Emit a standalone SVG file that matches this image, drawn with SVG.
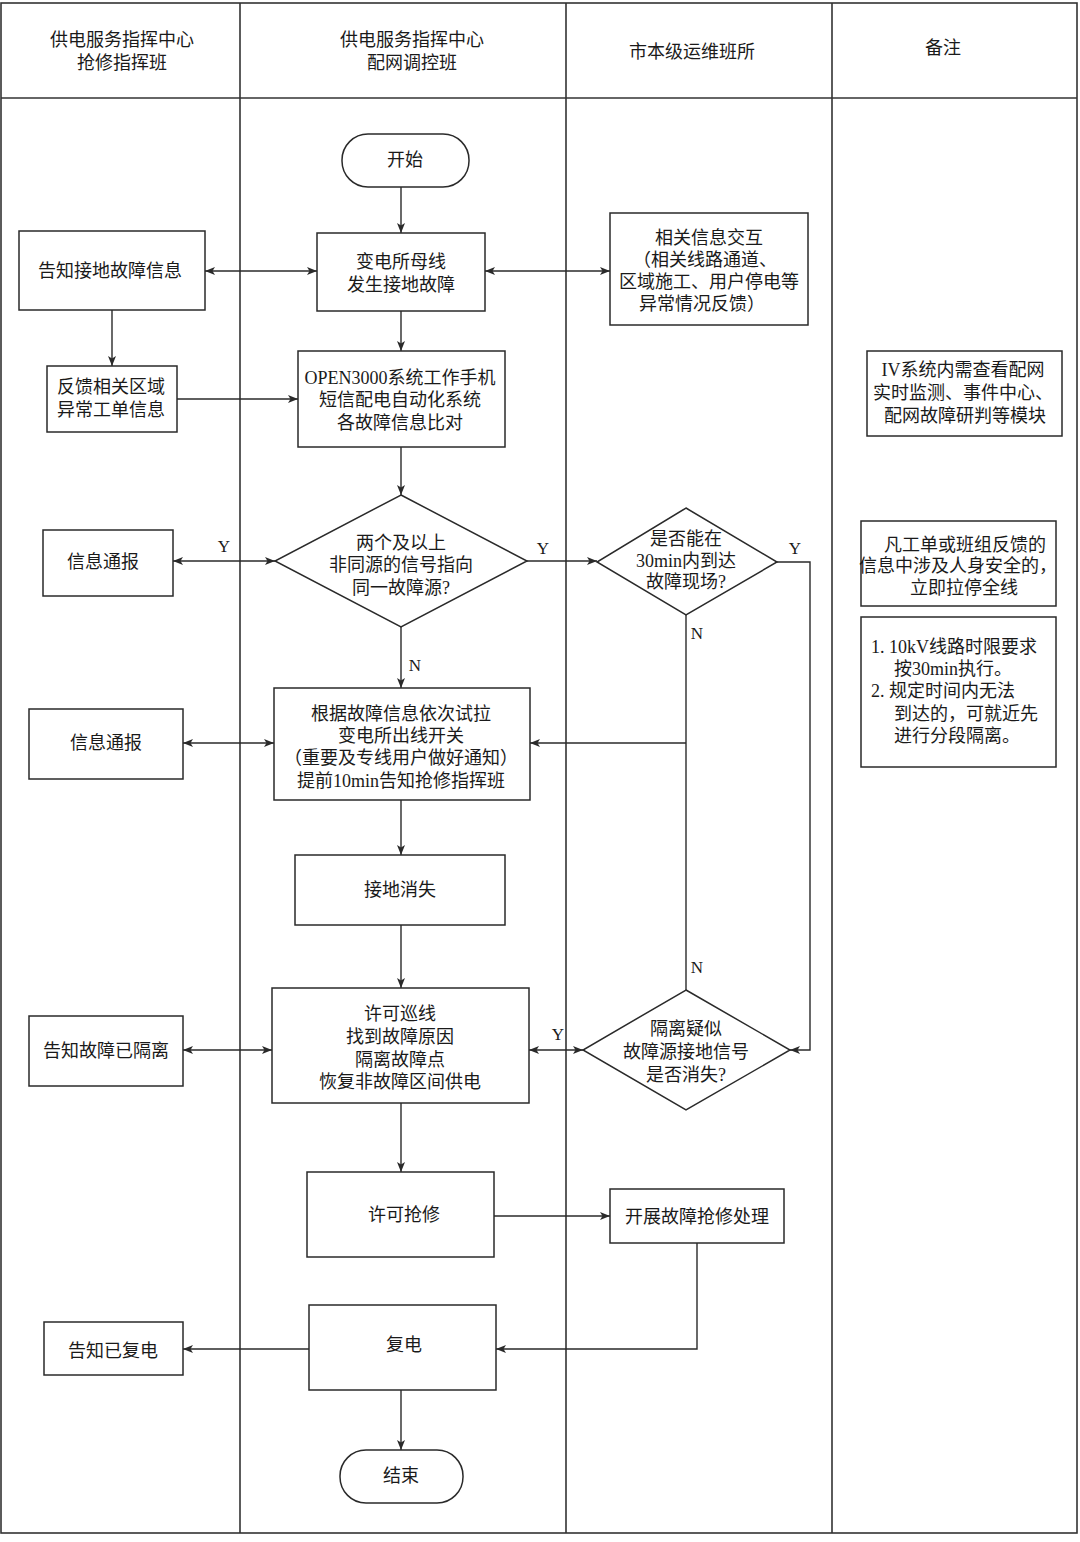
<svg xmlns="http://www.w3.org/2000/svg" width="1080" height="1542" viewBox="0 0 1080 1542">
<style>
text{font-family:"Liberation Serif","Noto Sans CJK SC",serif;font-size:18px;fill:#1a1a1a;text-anchor:middle;dominant-baseline:central}
.lbl{font-size:17px}
.l{text-anchor:start}
.frame{fill:none;stroke:#333;stroke-width:1.6}
.box{fill:#fff;stroke:#2a2a2a;stroke-width:1.5}
.c{fill:none;stroke:#2a2a2a;stroke-width:1.4}
</style>
<defs>
<marker id="ae" viewBox="0 0 10 8" refX="10" refY="4" markerWidth="10" markerHeight="8" markerUnits="userSpaceOnUse" orient="auto"><path d="M0,0 L10,4 L0,8 L2.5,4 Z" fill="#2a2a2a"/></marker>
<marker id="as" viewBox="0 0 10 8" refX="0" refY="4" markerWidth="10" markerHeight="8" markerUnits="userSpaceOnUse" orient="auto"><path d="M10,0 L0,4 L10,8 L7.5,4 Z" fill="#2a2a2a"/></marker>
</defs>
<rect width="1080" height="1542" fill="#fff"/>
<g id="lanes">
<rect class="frame" x="1" y="3" width="1076" height="1530"/>
<line class="frame" x1="1" y1="98" x2="1077" y2="98"/>
<line class="frame" x1="240" y1="3" x2="240" y2="1533"/>
<line class="frame" x1="566" y1="3" x2="566" y2="1533"/>
<line class="frame" x1="832" y1="3" x2="832" y2="1533"/>
<text x="122" y="40">供电服务指挥中心</text>
<text x="122" y="63">抢修指挥班</text>
<text x="412" y="40">供电服务指挥中心</text>
<text x="412" y="63">配网调控班</text>
<text x="692" y="52">市本级运维班所</text>
<text x="943" y="48">备注</text>
</g>
<g id="connectors">
<line class="c" x1="401" y1="187" x2="401" y2="233" marker-end="url(#ae)"/>
<line class="c" x1="205" y1="271" x2="317" y2="271" marker-start="url(#as)" marker-end="url(#ae)"/>
<line class="c" x1="485" y1="271" x2="610" y2="271" marker-start="url(#as)" marker-end="url(#ae)"/>
<line class="c" x1="112" y1="310" x2="112" y2="366" marker-end="url(#ae)"/>
<line class="c" x1="177" y1="399" x2="298" y2="399" marker-end="url(#ae)"/>
<line class="c" x1="401" y1="311" x2="401" y2="351" marker-end="url(#ae)"/>
<line class="c" x1="401" y1="447" x2="401" y2="495" marker-end="url(#ae)"/>
<line class="c" x1="173" y1="561" x2="275" y2="561" marker-start="url(#as)" marker-end="url(#ae)"/>
<line class="c" x1="527" y1="561" x2="597" y2="561" marker-end="url(#ae)"/>
<line class="c" x1="401" y1="627" x2="401" y2="688" marker-end="url(#ae)"/>
<polyline class="c" points="777,562 810,562 810,1050 790,1050" marker-end="url(#ae)"/>
<line class="c" x1="686" y1="615" x2="686" y2="990"/>
<line class="c" x1="686" y1="743" x2="530" y2="743" marker-end="url(#ae)"/>
<line class="c" x1="183" y1="743" x2="274" y2="743" marker-start="url(#as)" marker-end="url(#ae)"/>
<line class="c" x1="401" y1="800" x2="401" y2="855" marker-end="url(#ae)"/>
<line class="c" x1="401" y1="925" x2="401" y2="988" marker-end="url(#ae)"/>
<line class="c" x1="529" y1="1050" x2="583" y2="1050" marker-start="url(#as)" marker-end="url(#ae)"/>
<line class="c" x1="183" y1="1050" x2="272" y2="1050" marker-start="url(#as)" marker-end="url(#ae)"/>
<line class="c" x1="401" y1="1103" x2="401" y2="1172" marker-end="url(#ae)"/>
<line class="c" x1="494" y1="1216" x2="610" y2="1216" marker-end="url(#ae)"/>
<polyline class="c" points="697,1243 697,1349 496,1349" marker-end="url(#ae)"/>
<line class="c" x1="309" y1="1349" x2="183" y2="1349" marker-end="url(#ae)"/>
<line class="c" x1="401" y1="1390" x2="401" y2="1450" marker-end="url(#ae)"/>
<text class="lbl" x="224" y="546">Y</text>
<text class="lbl" x="543" y="548">Y</text>
<text class="lbl" x="415" y="665">N</text>
<text class="lbl" x="795" y="548">Y</text>
<text class="lbl" x="697" y="633">N</text>
<text class="lbl" x="697" y="967">N</text>
<text class="lbl" x="558" y="1034">Y</text>
</g>
<g id="start">
<rect class="box" x="342" y="134" width="127" height="53" rx="26" ry="26"/>
<text x="405" y="160">开始</text>
</g>
<g id="busfault">
<rect class="box" x="317" y="233" width="168" height="78"/>
<text x="401" y="262">变电所母线</text>
<text x="401" y="285">发生接地故障</text>
</g>
<g id="notify-ground">
<rect class="box" x="19" y="231" width="186" height="79"/>
<text x="110" y="271">告知接地故障信息</text>
</g>
<g id="interact">
<rect class="box" x="610" y="213" width="198" height="112"/>
<text x="709" y="238">相关信息交互</text>
<text x="705" y="260">（相关线路通道、</text>
<text x="709" y="282">区域施工、用户停电等</text>
<text x="702" y="304">异常情况反馈）</text>
</g>
<g id="feedback">
<rect class="box" x="47" y="366" width="130" height="66"/>
<text x="111" y="387">反馈相关区域</text>
<text x="111" y="410">异常工单信息</text>
</g>
<g id="compare">
<rect class="box" x="298" y="351" width="207" height="96"/>
<text x="400" y="378">OPEN3000系统工作手机</text>
<text x="400" y="400">短信配电自动化系统</text>
<text x="400" y="423">各故障信息比对</text>
</g>
<g id="note-iv">
<rect class="box" x="867" y="351" width="195" height="85"/>
<text x="963" y="370">IV系统内需查看配网</text>
<text x="963" y="393">实时监测、事件中心、</text>
<text x="965" y="416">配网故障研判等模块</text>
</g>
<g id="decision-source">
<polygon class="box" points="401,495 527,561 401,627 275,561"/>
<text x="401" y="543">两个及以上</text>
<text x="401" y="565">非同源的信号指向</text>
<text x="401" y="588">同一故障源?</text>
</g>
<g id="info1">
<rect class="box" x="43" y="530" width="130" height="66"/>
<text x="103" y="562">信息通报</text>
</g>
<g id="decision-30min">
<polygon class="box" points="686,508 777,562 686,615 597,562"/>
<text x="686" y="539">是否能在</text>
<text x="686" y="561">30min内到达</text>
<text x="686" y="582">故障现场?</text>
</g>
<g id="note-safety">
<rect class="box" x="861" y="521" width="195" height="85"/>
<text x="965" y="545">凡工单或班组反馈的</text>
<text x="958" y="566">信息中涉及人身安全的，</text>
<text x="964" y="588">立即拉停全线</text>
</g>
<g id="note-time">
<rect class="box" x="861" y="617" width="195" height="150"/>
<text class="l" x="871" y="647">1. 10kV线路时限要求</text>
<text class="l" x="894" y="669">按30min执行。</text>
<text class="l" x="871" y="691">2. 规定时间内无法</text>
<text class="l" x="894" y="714">到达的，可就近先</text>
<text class="l" x="894" y="736">进行分段隔离。</text>
</g>
<g id="trial">
<rect class="box" x="274" y="688" width="256" height="112"/>
<text x="401" y="714">根据故障信息依次试拉</text>
<text x="401" y="736">变电所出线开关</text>
<text x="401" y="758">（重要及专线用户做好通知）</text>
<text x="401" y="781">提前10min告知抢修指挥班</text>
</g>
<g id="info2">
<rect class="box" x="29" y="709" width="154" height="70"/>
<text x="106" y="743">信息通报</text>
</g>
<g id="ground-clear">
<rect class="box" x="295" y="855" width="210" height="70"/>
<text x="400" y="890">接地消失</text>
</g>
<g id="patrol">
<rect class="box" x="272" y="988" width="257" height="115"/>
<text x="400" y="1014">许可巡线</text>
<text x="400" y="1037">找到故障原因</text>
<text x="400" y="1060">隔离故障点</text>
<text x="400" y="1082">恢复非故障区间供电</text>
</g>
<g id="notify-isolated">
<rect class="box" x="29" y="1016" width="154" height="70"/>
<text x="106" y="1051">告知故障已隔离</text>
</g>
<g id="decision-isolate">
<polygon class="box" points="686,990 790,1050 686,1110 583,1050"/>
<text x="686" y="1029">隔离疑似</text>
<text x="686" y="1052">故障源接地信号</text>
<text x="686" y="1075">是否消失?</text>
</g>
<g id="permit-repair">
<rect class="box" x="307" y="1172" width="187" height="85"/>
<text x="404" y="1215">许可抢修</text>
</g>
<g id="repair">
<rect class="box" x="610" y="1189" width="174" height="54"/>
<text x="697" y="1217">开展故障抢修处理</text>
</g>
<g id="restore">
<rect class="box" x="309" y="1305" width="187" height="85"/>
<text x="404" y="1345">复电</text>
</g>
<g id="notify-restored">
<rect class="box" x="44" y="1322" width="139" height="53"/>
<text x="113" y="1351">告知已复电</text>
</g>
<g id="end">
<rect class="box" x="340" y="1450" width="123" height="53" rx="26" ry="26"/>
<text x="401" y="1476">结束</text>
</g>
</svg>
